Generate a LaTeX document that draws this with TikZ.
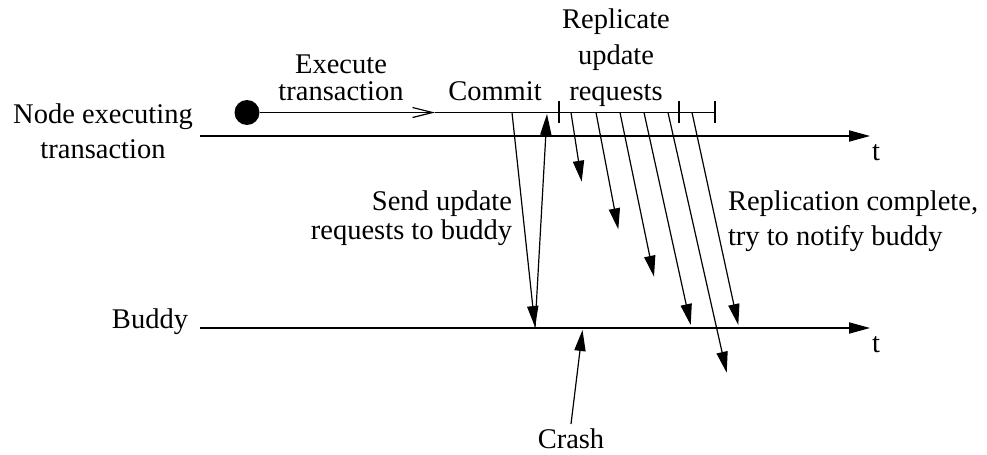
\documentclass[tikz,border=0pt]{standalone}
\usepackage{fontspec}
\setmainfont{Liberation Serif}
\usetikzlibrary{arrows.meta}

\tikzset{
  line/.style={line width=0.6pt, line cap=butt},
  msg/.style={line, -{Triangle[length=10.5pt,width=5.6pt]}},
  barb/.style={line, -{Straight Barb[length=10pt,width=5pt,line width=0.6pt]}},
  lbl/.style={inner sep=0pt, outer sep=0pt, font=\fontsize{14.25}{17}\selectfont},
  dotmark/.style={circle, fill=black, draw=none, minimum size=12.5pt, inner sep=0pt},
}

\begin{document}
\begin{tikzpicture}[x=0.5pt, y=-0.5pt]
  \useasboundingbox (0,0) rectangle (987,455);

  % time axes
  \coordinate (topstart) at (200,136);
  \coordinate (topend)   at (870,136);
  \coordinate (botstart) at (200,328);
  \coordinate (botend)   at (870,328);
  \draw[msg] (topstart) -- (topend);
  \draw[msg] (botstart) -- (botend);
  \node[lbl, anchor=base] (t1) at (876,160) {t};
  \node[lbl, anchor=base] (t2) at (876,352) {t};

  % row labels
  \node[lbl, anchor=base] (nodelbl1) at (103,123) {Node executing};
  \node[lbl, anchor=base] (nodelbl2) at (103,158) {transaction};
  \node[lbl, anchor=base east] (buddylbl) at (188,328) {Buddy};

  % execution line above the node's axis
  \node[dotmark] (dot) at (247,112.5) {};
  \coordinate (exectip) at (435,112.5);
  \coordinate (execend) at (715,112.5);
  \draw[barb] (dot) -- (exectip);
  \draw[line] (exectip) -- (execend);

  % ticks delimiting the replication phase
  \foreach \name/\x in {tka/559, tkb/679, tkc/715} {
    \coordinate (\name top) at (\x,101);
    \coordinate (\name bot) at (\x,123);
    \draw[line] (\name top) -- (\name bot);
  }

  \node[lbl, anchor=base] (exec1) at (341,74) {Execute};
  \node[lbl, anchor=base] (exec2) at (341,100) {transaction};
  \node[lbl, anchor=base] (commit) at (495,100) {Commit};
  \node[lbl, anchor=base] (rep1) at (616,28) {Replicate};
  \node[lbl, anchor=base] (rep2) at (616,64) {update};
  \node[lbl, anchor=base] (rep3) at (616,100) {requests};

  % send to buddy and acknowledgement
  \coordinate (sendstart) at (512,112.5);
  \coordinate (sendend)   at (535,327);
  \coordinate (ackstart)  at (535,328);
  \coordinate (ackend)    at (547,114);
  \draw[msg] (sendstart) -- (sendend);
  \draw[msg] (ackstart) -- (ackend);

  \node[lbl, anchor=base east] (send1) at (512,210) {Send update};
  \node[lbl, anchor=base east] (send2) at (512,239) {requests to buddy};

  % replication requests
  \foreach \name/\xs/\xe/\ye in {ra/571/581.7/181.7, rb/596/618.3/229.3,
      rc/620/654/276.7, rd/644/690.7/325, re/668/726.7/372.7, rf/692/738.3/325} {
    \coordinate (\name s) at (\xs,112.5);
    \coordinate (\name e) at (\xe,\ye);
    \draw[msg] (\name s) -- (\name e);
  }

  \node[lbl, anchor=base west] (done1) at (728,210) {Replication complete,};
  \node[lbl, anchor=base west] (done2) at (728,245) {try to notify buddy};

  % crash of the buddy
  \node[lbl, anchor=base] (crash) at (571,448) {Crash};
  \coordinate (crashstart) at (571,424);
  \coordinate (crashend)   at (582.5,330);
  \draw[msg] (crashstart) -- (crashend);
\end{tikzpicture}
\end{document}
